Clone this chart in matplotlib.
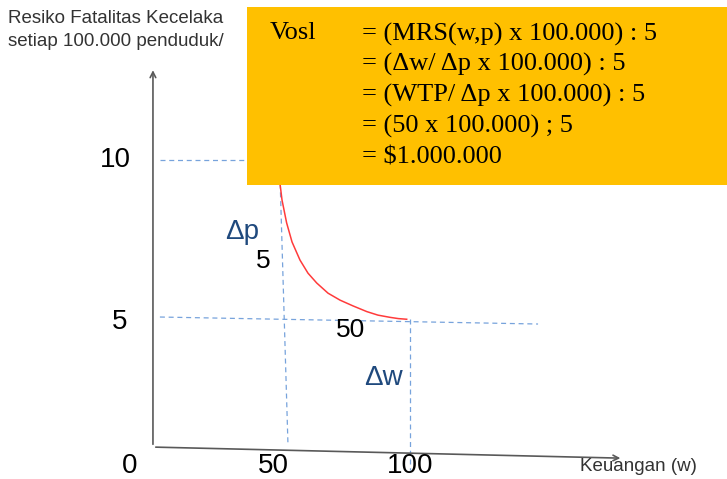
import matplotlib
matplotlib.use("Agg")
import matplotlib.pyplot as plt
from matplotlib.patches import Rectangle

# indifference curve (w = keuangan, p = resiko per 100.000)
curve_w = [49.0, 49.4, 50.2, 52.0, 54.1, 57.2, 60.3, 63.7, 68.1, 72.8, 77.8,
           83.2, 87.5, 92.2, 95.5, 98.7]
curve_p = [9.47, 9.21, 8.68, 7.96, 7.36, 6.79, 6.38, 6.07, 5.75, 5.53, 5.35,
           5.17, 5.06, 4.99, 4.95, 4.93]

# dashed guide lines (start, end) in data units
guide_p10 = ([2.7, 60.0], [9.94, 9.94])
guide_p5 = ([2.7, 149.8], [5.0, 4.78])
guide_w50 = ([49.4, 52.5], [9.47, 1.04])
guide_w100 = ([100.0, 100.0], [4.94, 0.19])

tick_w = [-9.1, 46.7, 100.0]
tick_w_labels = ["0", "50", "100"]
tick_p = [9.94, 4.84]
tick_p_labels = ["10", "5"]

equations = [
    "= (MRS(w,p) x 100.000) : 5",
    "= (\u0394w/ \u0394p x 100.000) : 5",
    "= (WTP/ \u0394p x 100.000) : 5",
    "= (50 x 100.000) ; 5",
    "= $1.000.000",
]

fig = plt.figure(figsize=(7.27, 4.79), dpi=100)
ax = fig.add_axes([0, 0, 1, 1])
ax.set_xlim(-59.5, 223.3)
ax.set_ylim(-0.094, 14.97)
ax.axis("off")

sans = "Liberation Sans"
serif = "Liberation Serif"
blue = "#77a3dc"

# axes with arrows
ax.annotate("", xy=(0, 12.85), xytext=(0, 0.91),
            arrowprops=dict(arrowstyle="->", color="#595959", lw=1.2))
ax.annotate("", xy=(182.9, 0.56), xytext=(0, 0.91),
            arrowprops=dict(arrowstyle="->", color="#595959", lw=1.2))

for xs, ys in [guide_p10, guide_p5, guide_w50, guide_w100]:
    ax.plot(xs, ys, ls=(0, (4, 3)), color=blue, lw=0.9, zorder=2)

ax.plot(curve_w, curve_p, color="#ff3b3b", lw=1.1, zorder=3,
        solid_joinstyle="round")

for w, lab in zip(tick_w, tick_w_labels):
    ax.text(w, 0.31, lab, fontsize=20, family=sans, ha="center", va="center")
ax.text(-14.8, tick_p[0], tick_p_labels[0], fontsize=20, family=sans, ha="center", va="center")
ax.text(-13.0, tick_p[1], tick_p_labels[1], fontsize=20, family=sans, ha="center", va="center")

ax.text(166.1, 0.31, "Keuangan (w)", fontsize=13.5, family=sans, ha="left",
        va="center", color="#333333")
ax.text(-56.4, 14.4, "Resiko Fatalitas Kecelaka", fontsize=13.5, family=sans,
        ha="left", va="center", color="#333333")
ax.text(-56.4, 13.65, "setiap 100.000 penduduk/", fontsize=13.5, family=sans,
        ha="left", va="center", color="#333333")

ax.text(34.5, 7.67, "\u0394p", fontsize=20, family=sans, color="#1f497d",
        ha="center", va="center")
ax.text(42.8, 6.76, "5", fontsize=19, family=sans, ha="center", va="center")
ax.text(76.7, 4.59, "50", fontsize=19, family=sans, ha="center", va="center")
ax.text(89.5, 3.08, "\u0394w", fontsize=20, family=sans, color="#1f497d",
        ha="center", va="center")

# formula box
box = Rectangle((247 / 727, 1 - 185 / 479), 1 - 247 / 727, (185 - 7) / 479,
                transform=ax.transAxes, facecolor="#ffc000", edgecolor="none",
                zorder=5)
ax.add_patch(box)
ax.text(270 / 727, 1 - 33 / 479, "Vosl", fontsize=19, family=serif,
        transform=ax.transAxes, ha="left", va="center", zorder=6)
for i, line in enumerate(equations):
    ax.text(362 / 727, 1 - (34 + i * 30.8) / 479, line, fontsize=19, family=serif,
            transform=ax.transAxes, ha="left", va="center", zorder=6)

fig.savefig("out.png", dpi=100)
